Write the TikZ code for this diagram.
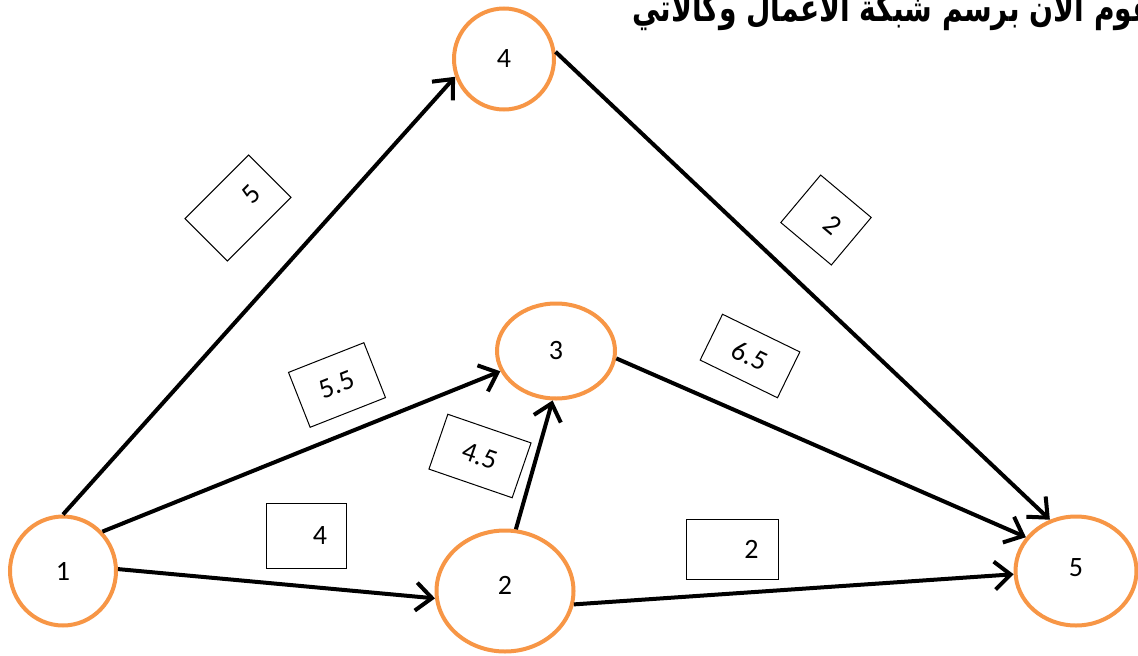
\documentclass[tikz,border=0pt]{standalone}
\usepackage{fontspec}
\setmainfont{Carlito}
\newfontfamily\arabicfont[Script=Arabic]{DejaVu Sans}
\TeXXeTstate=1
\usetikzlibrary{shapes.geometric, arrows.meta}
\definecolor{NetOrange}{HTML}{F79646}
\definecolor{NetBlack}{HTML}{000000}
\definecolor{NetWhite}{HTML}{ffffff}
\tikzset{
    % Event circle style
    event/.style={
        ellipse,
        draw=NetOrange,
        fill=NetWhite,
        line width=4pt,
        inner sep=0pt,
        font=\fontsize{28}{34}\selectfont
    },
    % Activity arrow style
    activity/.style={
        -{Straight Barb[length=16pt, width=28pt]},
        line width=4pt,
        color=NetBlack
    },
    % Duration box style
    duration/.style={
        rectangle,
        draw=NetBlack,
        fill=NetWhite,
        line width=1pt,
        inner sep=0pt,
        font=\fontsize{28}{34}\selectfont
    }
}

\begin{document}
\begin{tikzpicture}[x=1pt, y=-1pt]
    \useasboundingbox (0,0) rectangle (1138,656);

    % Heading
    \node (heading) [anchor=base west, inner sep=0pt, font=\arabicfont\bfseries\fontsize{29}{34}\selectfont] at (632,21) {\scalebox{0.97}[1.3]{\beginR نقوم الآن برسم شبكة الأعمال وكالآتي\endR}};

    % Events
    \node (e1) [event, minimum width=106pt, minimum height=109pt] at (63,571) {1};
    \node (e4) [event, minimum width=100pt, minimum height=101pt] at (504,59) {4};
    \node (e3) [event, minimum width=118pt, minimum height=95pt] at (556,351) {3};
    \node (e2) [event, minimum width=137pt, minimum height=121pt] at (505,591) {\raisebox{12pt}{2}};
    \node (e5) [event, minimum width=121pt, minimum height=109pt] at (1076,571) {\raisebox{6pt}{5}};

    % Activities
    \draw [activity] (e1.90) -- (e4.200);
    \draw [activity] (e1.45) -- (e3.200);
    \draw [activity] (e1.2) -- (e2.186);
    \draw [activity] (e2.80) -- (e3.266);
    \draw [activity] (e2.349) -- (e5.183);
    \draw [activity] (e3.353) -- (e5.146);
    \draw [activity] (e4.8) -- (e5.117);

    % Durations
    \node (d14) [duration, minimum width=90pt, minimum height=60pt, rotate=45] at (238,208) {\hspace*{38pt}5};
    \node (d45) [duration, minimum width=66pt, minimum height=62pt, rotate=-40] at (826,220) {\hspace*{17pt}2};
    \node (d13) [duration, minimum width=81pt, minimum height=59pt, rotate=21.5] at (337,385) {5.5};
    \node (d23) [duration, minimum width=88pt, minimum height=58pt, rotate=-19] at (480,456) {4.5};
    \node (d35) [duration, minimum width=86pt, minimum height=51pt, rotate=-26] at (750,356) {6.5};
    \node (d12) [duration, minimum width=80pt, minimum height=65pt] at (306,536) {\hspace*{28pt}4};
    \node (d25) [duration, minimum width=92pt, minimum height=60pt] at (732,549) {\hspace*{39pt}2};
\end{tikzpicture}
\end{document}
